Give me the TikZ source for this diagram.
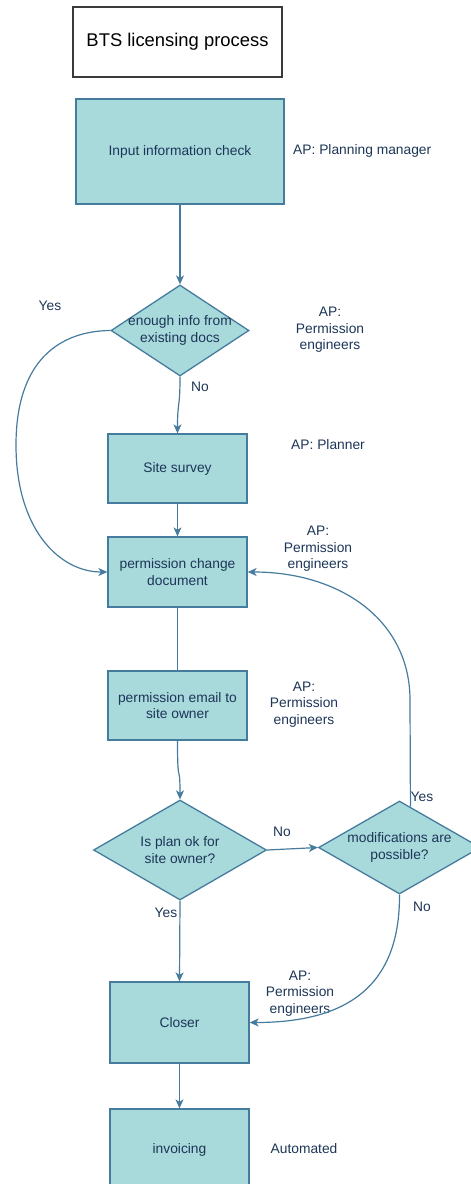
\documentclass[tikz,border=0pt]{standalone}
\usepackage{fontspec}
\setmainfont{Liberation Sans}
\usetikzlibrary{shapes.geometric,arrows.meta}
\definecolor{boxfill}{HTML}{A8DADC}
\definecolor{boxline}{HTML}{457B9D}
\definecolor{ink}{HTML}{1D3557}
\definecolor{frame}{HTML}{3A3A3A}

\begin{document}
\begin{tikzpicture}[x=1pt,y=-1pt,
  every node/.style={font=\fontsize{13.8}{16.5}\selectfont, text=ink},
  stepbox/.style={draw=boxline, fill=boxfill, line width=1.3pt, minimum width=139pt,
    inner sep=0pt, align=center},
  dia/.style={diamond, draw=boxline, fill=boxfill, line width=1.3pt, inner sep=0pt},
  dtext/.style={align=center, inner sep=0pt, text=ink},
  note/.style={align=center, inner sep=0pt},
  link/.style={draw=boxline, line width=1.2pt},
  flow/.style={link, -{Stealth[length=9pt,width=8pt,inset=2.5pt]}}
]
\useasboundingbox (0,0) rectangle (471,1184);
\clip (0,0) rectangle (471,1184);

% title
\node[draw=frame, fill=white, line width=1.3pt, minimum width=209pt, minimum height=70pt,
  font=\fontsize{18.4}{22}\selectfont, text=black] (title) at (177.5,42) {BTS licensing process};

% process steps
\node[stepbox, minimum width=208pt, minimum height=105pt] (input) at (180,151.5) {Input information check};
\node[dia, minimum width=138pt, minimum height=91pt,
  label={[dtext]center:{enough info from\\existing docs}}] (d1) at (180,330.5) {};
\node[stepbox, minimum height=69pt] (site) at (177.5,468.5) {Site survey};
\node[stepbox, minimum height=70pt] (perm) at (177.5,572) {permission change\\document};
\node[stepbox, minimum height=69pt] (email) at (177.5,705.5) {permission email to\\site owner};
\node[dia, minimum width=173pt, minimum height=100pt,
  label={[dtext]center:{Is plan ok for\\site owner?}}] (d2) at (180,850) {};
\node[dia, minimum width=162pt, minimum height=93pt,
  label={[dtext]center:{modifications are\\possible?}}] (d3) at (399.5,847.5) {};
\node[stepbox, minimum height=81pt] (closer) at (179.5,1022.5) {Closer};
\node[stepbox, minimum height=81pt] (invoice) at (179.5,1149.5) {invoicing};

% responsibilities
\node[note, anchor=west] (apPlan) at (293,151) {AP: Planning manager};
\node[note] (apPerm1) at (330,330) {AP:\\Permission\\engineers};
\node[note] (apSurvey) at (328,445) {AP: Planner};
\node[note] (apPerm2) at (318,549) {AP:\\Permission\\engineers};
\node[note] (apPerm3) at (304,704.5) {AP:\\Permission\\engineers};
\node[note] (apPerm4) at (300,993.5) {AP:\\Permission\\engineers};
\node[note] (apAuto) at (304,1149) {Automated};

% connectors
\draw[flow] (input.south) -- (d1.north);
\draw[flow] (d1.south) .. controls (180,410) and (177.5,400) .. (site.north);
\draw[flow] (d1.west) .. controls (60,331) and (16,360) .. (16,445)
  .. controls (16,530) and (60,572) .. (perm.west);
\draw[flow] (site.south) -- (perm.north);
\draw[link] (perm.south) -- (email.north);
\draw[flow] (email.south) .. controls (177.5,790) and (180,760) .. (d2.north);
\draw[flow] (d2.east) -- (d3.west);
\draw[flow] (d3.75) -- (410,700) .. controls (410,620) and (340,572) .. (perm.east);
\draw[flow] (d3.south) .. controls (400,988) and (345,1022.5) .. (closer.east);
\draw[flow] (d2.south) -- (closer.north);
\draw[flow] (closer.south) -- (invoice.north);

% branch labels
\node (yes1) at (50,306) {Yes};
\node (no1) at (200,387) {No};
\node (no2) at (282,832) {No};
\node (yes2) at (422,797) {Yes};
\node (no3) at (422,907) {No};
\node (yes3) at (166,913) {Yes};
\end{tikzpicture}
\end{document}
